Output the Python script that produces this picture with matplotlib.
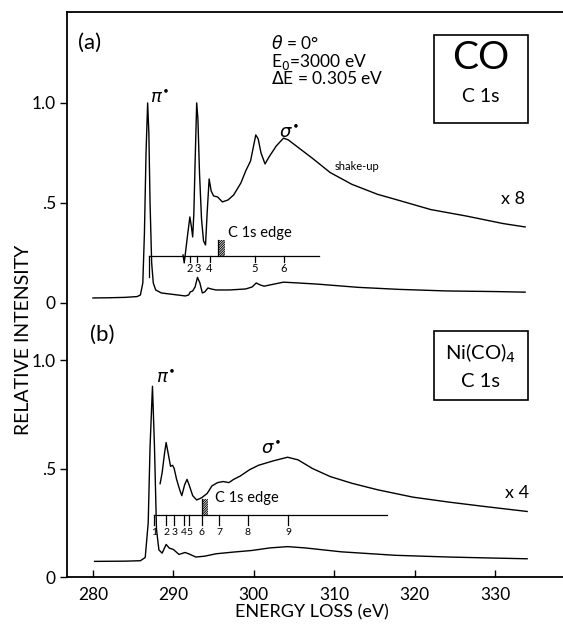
import matplotlib
matplotlib.use('Agg')
import matplotlib.pyplot as plt
from matplotlib.patches import Rectangle

plt.rcParams['font.family'] = ['Lato', 'DejaVu Sans']
plt.rcParams['mathtext.fontset'] = 'dejavusans'
plt.rcParams['hatch.linewidth'] = 0.7

# ---------------- Panel (a): CO C 1s ----------------
co_E_x1 = [280.0, 282.0, 284.0, 285.5, 285.9, 286.2, 286.4, 286.6, 286.8, 286.95, 287.1, 287.3, 287.5,
           287.8, 288.5, 289.5, 290.5, 291.5, 291.9, 292.1, 292.4, 292.7, 293.0, 293.3, 293.6, 293.9,
           294.3, 294.7, 295.3, 297.0, 299.0, 299.8, 300.3, 300.8, 301.3, 302.0, 303.7, 305.5, 308.0,
           313.0, 318.0, 324.0, 330.0, 333.75]
co_I_x1 = [0.025, 0.026, 0.028, 0.032, 0.04, 0.1, 0.35, 0.75, 1.0, 0.85, 0.5, 0.2, 0.1,
           0.065, 0.05, 0.045, 0.04, 0.035, 0.04, 0.055, 0.06, 0.08, 0.128, 0.1, 0.05, 0.055,
           0.075, 0.07, 0.065, 0.065, 0.07, 0.08, 0.1, 0.09, 0.084, 0.09, 0.104, 0.1, 0.094,
           0.078, 0.068, 0.06, 0.057, 0.054]

co_E_x8 = [291.2, 291.35, 291.5, 291.8, 292.05, 292.25, 292.4, 292.55, 292.7, 292.9, 293.05, 293.25,
           293.5, 293.75, 294.0, 294.2, 294.45, 294.7, 295.0, 295.5, 296.1, 296.8, 297.5, 298.4,
           299.0, 299.6, 300.0, 300.25, 300.55, 300.9, 301.4, 301.9, 302.8, 303.7, 304.3, 305.5,
           307.3, 309.5, 312.2, 315.4, 317.6, 322.0, 326.5, 331.0, 333.75]
co_I_x8 = [0.24, 0.20, 0.25, 0.35, 0.43, 0.38, 0.33, 0.45, 0.7, 1.0, 0.92, 0.65,
           0.42, 0.31, 0.29, 0.45, 0.62, 0.56, 0.535, 0.53, 0.505, 0.515, 0.54, 0.6,
           0.66, 0.71, 0.79, 0.84, 0.82, 0.75, 0.695, 0.73, 0.785, 0.824, 0.815, 0.778,
           0.723, 0.652, 0.593, 0.543, 0.518, 0.467, 0.434, 0.397, 0.38]

co_peak_labels = ['2', '3', '4', '5', '6']
co_peak_E = [292.06, 293.0, 294.5, 300.1, 303.75]
co_pi_E = 286.97
co_edge_E = 295.6
co_scale_end = 308.1
co_scale_level = 0.235

# ---------------- Panel (b): Ni(CO)4 C 1s ----------------
ni_E_x1 = [280.2, 284.0, 285.9, 286.5, 286.87, 287.1, 287.4, 287.65, 287.9, 288.2, 288.6, 289.1,
           289.5, 290.0, 290.7, 291.45, 291.9, 292.8, 293.9, 295.3, 297.5, 299.7, 302.0, 304.2,
           306.4, 310.9, 317.6, 324.3, 330.1, 334.0]
ni_I_x1 = [0.072, 0.073, 0.075, 0.09, 0.25, 0.6, 0.879, 0.6, 0.22, 0.125, 0.11, 0.15,
           0.133, 0.127, 0.104, 0.113, 0.107, 0.092, 0.096, 0.107, 0.115, 0.122, 0.134, 0.14,
           0.134, 0.116, 0.10, 0.092, 0.087, 0.084]

ni_E_x4 = [288.35, 288.6, 288.9, 289.1, 289.35, 289.65, 289.9, 290.1, 290.4, 290.8, 291.05, 291.4,
           291.7, 292.0, 292.4, 292.9, 293.5, 294.2, 294.8, 295.5, 296.2, 296.9, 297.5, 298.3,
           299.5, 300.6, 302.4, 304.2, 305.5, 307.3, 309.5, 312.2, 315.4, 319.8, 324.3, 328.7, 334.0]
ni_I_x4 = [0.43, 0.48, 0.57, 0.62, 0.57, 0.51, 0.515, 0.5, 0.45, 0.4, 0.375, 0.425,
           0.45, 0.42, 0.375, 0.355, 0.365, 0.385, 0.42, 0.435, 0.44, 0.435, 0.45, 0.465,
           0.495, 0.515, 0.535, 0.552, 0.54, 0.5, 0.463, 0.432, 0.402, 0.368, 0.345, 0.325, 0.302]

ni_peak_labels = ['1', '2', '3', '4', '5', '6', '7', '8', '9']
ni_peak_E = [287.6, 289.1, 290.1, 291.35, 291.95, 293.5, 295.7, 299.25, 304.3]
ni_edge_E = 293.5
ni_scale_end = 316.6
ni_scale_level = 0.285

x_ticks = [280, 290, 300, 310, 320, 330]
y_tick_vals = [0.0, 0.5, 1.0]
y_tick_labels = ['0', '.5', '1.0']

# vertical placement of the two panels on the common axis
OFF_A = 1.263
S_A = 0.922


def ya(v):
    if isinstance(v, (list, tuple)):
        return [OFF_A + S_A * t for t in v]
    return OFF_A + S_A * v


fig = plt.figure(figsize=(5.63, 6.27), dpi=100)
ax = fig.add_axes([67 / 563, 50 / 627, 496 / 563, 565 / 627])
ax.set_xlim(276.77, 338.46)
ax.set_ylim(0, 2.604)

lw = 1.0
HATCH = '/' * 14
# curves
ax.plot(co_E_x1, ya(co_I_x1), color='k', lw=lw)
ax.plot(co_E_x8, ya(co_I_x8), color='k', lw=lw)
ax.plot(ni_E_x1, ni_I_x1, color='k', lw=lw)
ax.plot(ni_E_x4, ni_I_x4, color='k', lw=lw)

# ---- scale bar (a)
ax.plot([co_pi_E, co_scale_end], [ya(co_scale_level)] * 2, color='k', lw=0.9)
ax.plot([co_pi_E, co_pi_E], [ya(co_scale_level), ya(co_scale_level - 0.105)], color='k', lw=0.9)
for e, lab in zip(co_peak_E, co_peak_labels):
    ax.plot([e, e], [ya(co_scale_level), ya(co_scale_level - 0.03)], color='k', lw=0.9)
    ax.text(e, ya(co_scale_level - 0.035), lab, ha='center', va='top', fontsize=8)
ax.plot([co_edge_E, co_edge_E], [ya(co_scale_level), ya(co_scale_level + 0.08)], color='k', lw=0.9)
ax.add_patch(Rectangle((co_edge_E, ya(co_scale_level)), 0.8, S_A * 0.08, fill=False,
                       hatch=HATCH, lw=0, edgecolor='k'))
ax.text(co_edge_E + 1.2, ya(0.35), 'C 1s edge', fontsize=10.5, va='center', ha='left')

# ---- scale bar (b)
ax.plot([ni_peak_E[0], ni_scale_end], [ni_scale_level] * 2, color='k', lw=0.9)
for e, lab in zip(ni_peak_E, ni_peak_labels):
    ax.plot([e, e], [ni_scale_level, ni_scale_level - 0.045], color='k', lw=0.9)
    ax.text(e, 0.203, lab, ha='center', va='center', fontsize=7.5)
ax.plot([ni_edge_E, ni_edge_E], [ni_scale_level, ni_scale_level + 0.075], color='k', lw=0.9)
ax.add_patch(Rectangle((ni_edge_E, ni_scale_level), 0.85, 0.075, fill=False,
                       hatch=HATCH, lw=0, edgecolor='k'))
ax.text(ni_edge_E + 1.7, 0.364, 'C 1s edge', fontsize=10.5, va='center', ha='left')

# ---- annotations (a)
ax.text(278.2, ya(1.30), '(a)', fontsize=16, va='center', ha='left')
ax.text(302.2, ya(1.30), r'$\theta$ = 0°', fontsize=12.5, va='center', ha='left')
ax.text(302.2, ya(1.205), r'E$_0$=3000 eV', fontsize=12.5, va='center', ha='left')
ax.text(302.2, ya(1.12), r'$\Delta$E = 0.305 eV', fontsize=12.5, va='center', ha='left')
ax.add_patch(Rectangle((322.4, ya(0.90)), 11.7, S_A * 0.44, fill=False, lw=1.2, edgecolor='k'))
ax.text(328.25, ya(1.226), 'CO', fontsize=28, va='center', ha='center')
ax.text(328.25, ya(1.031), 'C 1s', fontsize=14, va='center', ha='center')
ax.text(287.1, ya(1.03), r'$\pi^{\bullet}$', fontsize=13, va='center', ha='left')
ax.text(303.1, ya(0.855), r'$\sigma^{\bullet}$', fontsize=13, va='center', ha='left')
ax.text(310.1, ya(0.68), 'shake-up', fontsize=8, va='center', ha='left')
ax.text(330.8, ya(0.52), 'x 8', fontsize=13, va='center', ha='left')

# ---- annotations (b)
ax.text(279.6, 1.115, '(b)', fontsize=16, va='center', ha='left')
ax.add_patch(Rectangle((322.4, 0.816), 11.7, 0.318, fill=False, lw=1.2, edgecolor='k'))
ax.text(328.25, 1.032, r'Ni(CO)$_4$', fontsize=14.5, va='center', ha='center')
ax.text(328.25, 0.899, 'C 1s', fontsize=14.5, va='center', ha='center')
ax.text(287.9, 0.922, r'$\pi^{\bullet}$', fontsize=13, va='center', ha='left')
ax.text(300.9, 0.594, r'$\sigma^{\bullet}$', fontsize=13, va='center', ha='left')
ax.text(331.2, 0.387, 'x 4', fontsize=13, va='center', ha='left')

# ---- axes styling
ax.spines['right'].set_visible(False)
for s in ['left', 'bottom', 'top']:
    ax.spines[s].set_linewidth(1.3)
ax.set_xticks(x_ticks)
ax.set_xticklabels([str(t) for t in x_ticks])
ax.tick_params(axis='x', direction='in', length=5, width=1, labelsize=12.5, pad=7)
yt = list(y_tick_vals) + ya(list(y_tick_vals))
ax.set_yticks(yt)
ax.set_yticklabels(y_tick_labels + y_tick_labels)
ax.tick_params(axis='y', direction='out', length=5, width=1, labelsize=12.5, pad=3)

fig.text(312 / 563, 1 - 612 / 627, 'ENERGY LOSS (eV)', fontsize=13, ha='center', va='center')
fig.text(24 / 563, 1 - 340 / 627, 'RELATIVE INTENSITY', fontsize=14, ha='center', va='center',
         rotation=90)

fig.savefig('out.png', dpi=100)
